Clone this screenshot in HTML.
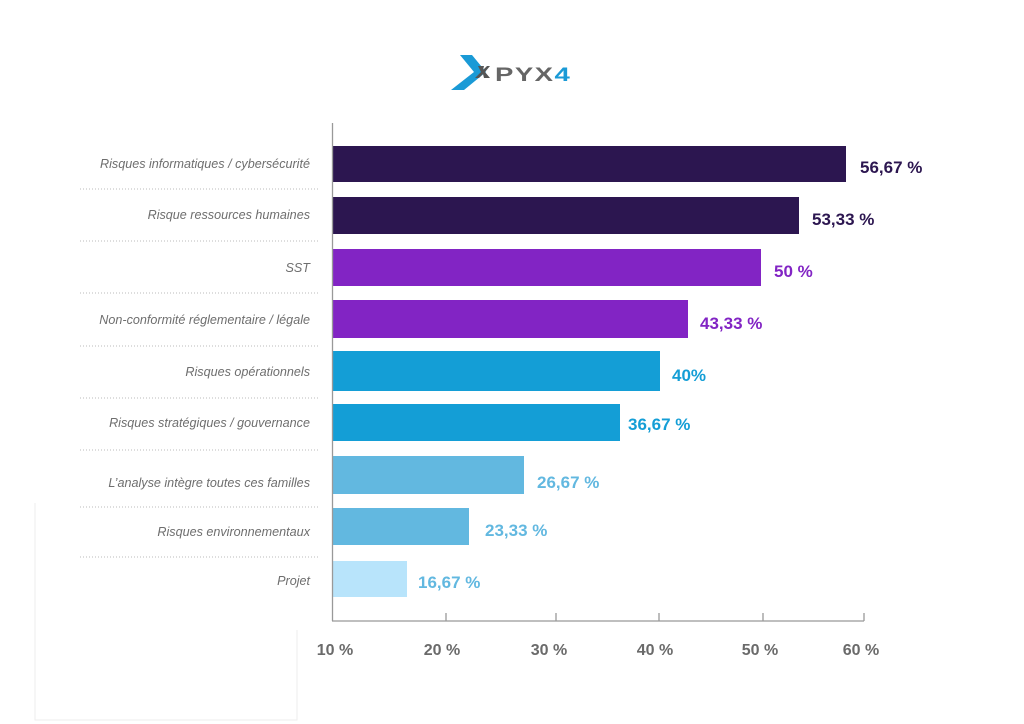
<!DOCTYPE html>
<html><head><meta charset="utf-8"><style>
html,body{margin:0;padding:0;background:#fff;width:1024px;height:724px;overflow:hidden}
svg{display:block}
.l{font-family:"Liberation Sans",sans-serif;font-style:italic;font-size:12.6px;fill:#6e6e6e;text-anchor:end}
.v{font-family:"Liberation Sans",sans-serif;font-weight:bold;font-size:17px}
.t{font-family:"Liberation Sans",sans-serif;font-weight:bold;font-size:16px;fill:#6a6a6a;text-anchor:middle}
</style></head><body>
<svg width="1024" height="724" viewBox="0 0 1024 724">
<!-- logo -->
<polygon points="460,55 472,55 486,72 464,90 451,90 474,72" fill="#1a9ad6"/>
<polygon points="478,66 484,66 483,70 487,66 490,66 485,72 490,78 484,78 483,74 479,78 475,78 481,72" fill="#555"/>
<text x="495" y="81" font-family="Liberation Sans,sans-serif" font-weight="bold" font-size="19" fill="#666" transform="translate(495,0) scale(1.45,1) translate(-495,0)" letter-spacing="1">PYX<tspan fill="#1a9ad6">4</tspan></text>
<!-- faint box -->
<path d="M35,503 V720 H297 V630" fill="none" stroke="#eee" stroke-width="1"/>
<!-- separators -->
<g stroke="#bbb" stroke-width="1" stroke-dasharray="1,2">
<line x1="80" y1="189" x2="318" y2="189"/>
<line x1="80" y1="241" x2="318" y2="241"/>
<line x1="80" y1="293" x2="318" y2="293"/>
<line x1="80" y1="346" x2="318" y2="346"/>
<line x1="80" y1="398" x2="318" y2="398"/>
<line x1="80" y1="450" x2="318" y2="450"/>
<line x1="80" y1="507" x2="318" y2="507"/>
<line x1="80" y1="557" x2="318" y2="557"/>
</g>
<!-- bars -->
<rect x="333" y="146" width="513" height="36" fill="#2c1650"/>
<rect x="333" y="197" width="466" height="37" fill="#2c1650"/>
<rect x="333" y="249" width="428" height="37" fill="#8224c4"/>
<rect x="333" y="300" width="355" height="38" fill="#8224c4"/>
<rect x="333" y="351" width="327" height="40" fill="#149ed6"/>
<rect x="333" y="404" width="287" height="37" fill="#149ed6"/>
<rect x="333" y="456" width="191" height="38" fill="#62b8e0"/>
<rect x="333" y="508" width="136" height="37" fill="#62b8e0"/>
<rect x="333" y="561" width="74" height="36" fill="#b8e4fb"/>
<!-- labels -->
<text class="l" x="310" y="168">Risques informatiques / cybersécurité</text>
<text class="l" x="310" y="219">Risque ressources humaines</text>
<text class="l" x="310" y="272">SST</text>
<text class="l" x="310" y="324">Non-conformité réglementaire / légale</text>
<text class="l" x="310" y="376">Risques opérationnels</text>
<text class="l" x="310" y="427">Risques stratégiques / gouvernance</text>
<text class="l" x="310" y="487">L’analyse intègre toutes ces familles</text>
<text class="l" x="310" y="536">Risques environnementaux</text>
<text class="l" x="310" y="585">Projet</text>
<!-- values -->
<text class="v" x="860" y="173" fill="#2c1650">56,67 %</text>
<text class="v" x="812" y="225" fill="#2c1650">53,33 %</text>
<text class="v" x="774" y="277" fill="#8224c4">50 %</text>
<text class="v" x="700" y="329" fill="#8224c4">43,33 %</text>
<text class="v" x="672" y="381" fill="#149ed6">40%</text>
<text class="v" x="628" y="430" fill="#149ed6">36,67 %</text>
<text class="v" x="537" y="488" fill="#62b8e0">26,67 %</text>
<text class="v" x="485" y="536" fill="#62b8e0">23,33 %</text>
<text class="v" x="418" y="588" fill="#62b8e0">16,67 %</text>
<!-- axes -->
<g stroke="#999" stroke-width="1.3" fill="none">
<line x1="332.5" y1="123" x2="332.5" y2="621"/>
<line x1="332" y1="621" x2="864" y2="621"/>
<line x1="446" y1="613" x2="446" y2="621"/>
<line x1="556" y1="613" x2="556" y2="621"/>
<line x1="659" y1="613" x2="659" y2="621"/>
<line x1="763" y1="613" x2="763" y2="621"/>
<line x1="864" y1="613" x2="864" y2="621"/>
</g>
<text class="t" x="335" y="655">10 %</text>
<text class="t" x="442" y="655">20 %</text>
<text class="t" x="549" y="655">30 %</text>
<text class="t" x="655" y="655">40 %</text>
<text class="t" x="760" y="655">50 %</text>
<text class="t" x="861" y="655">60 %</text>
</svg>
</body></html>
